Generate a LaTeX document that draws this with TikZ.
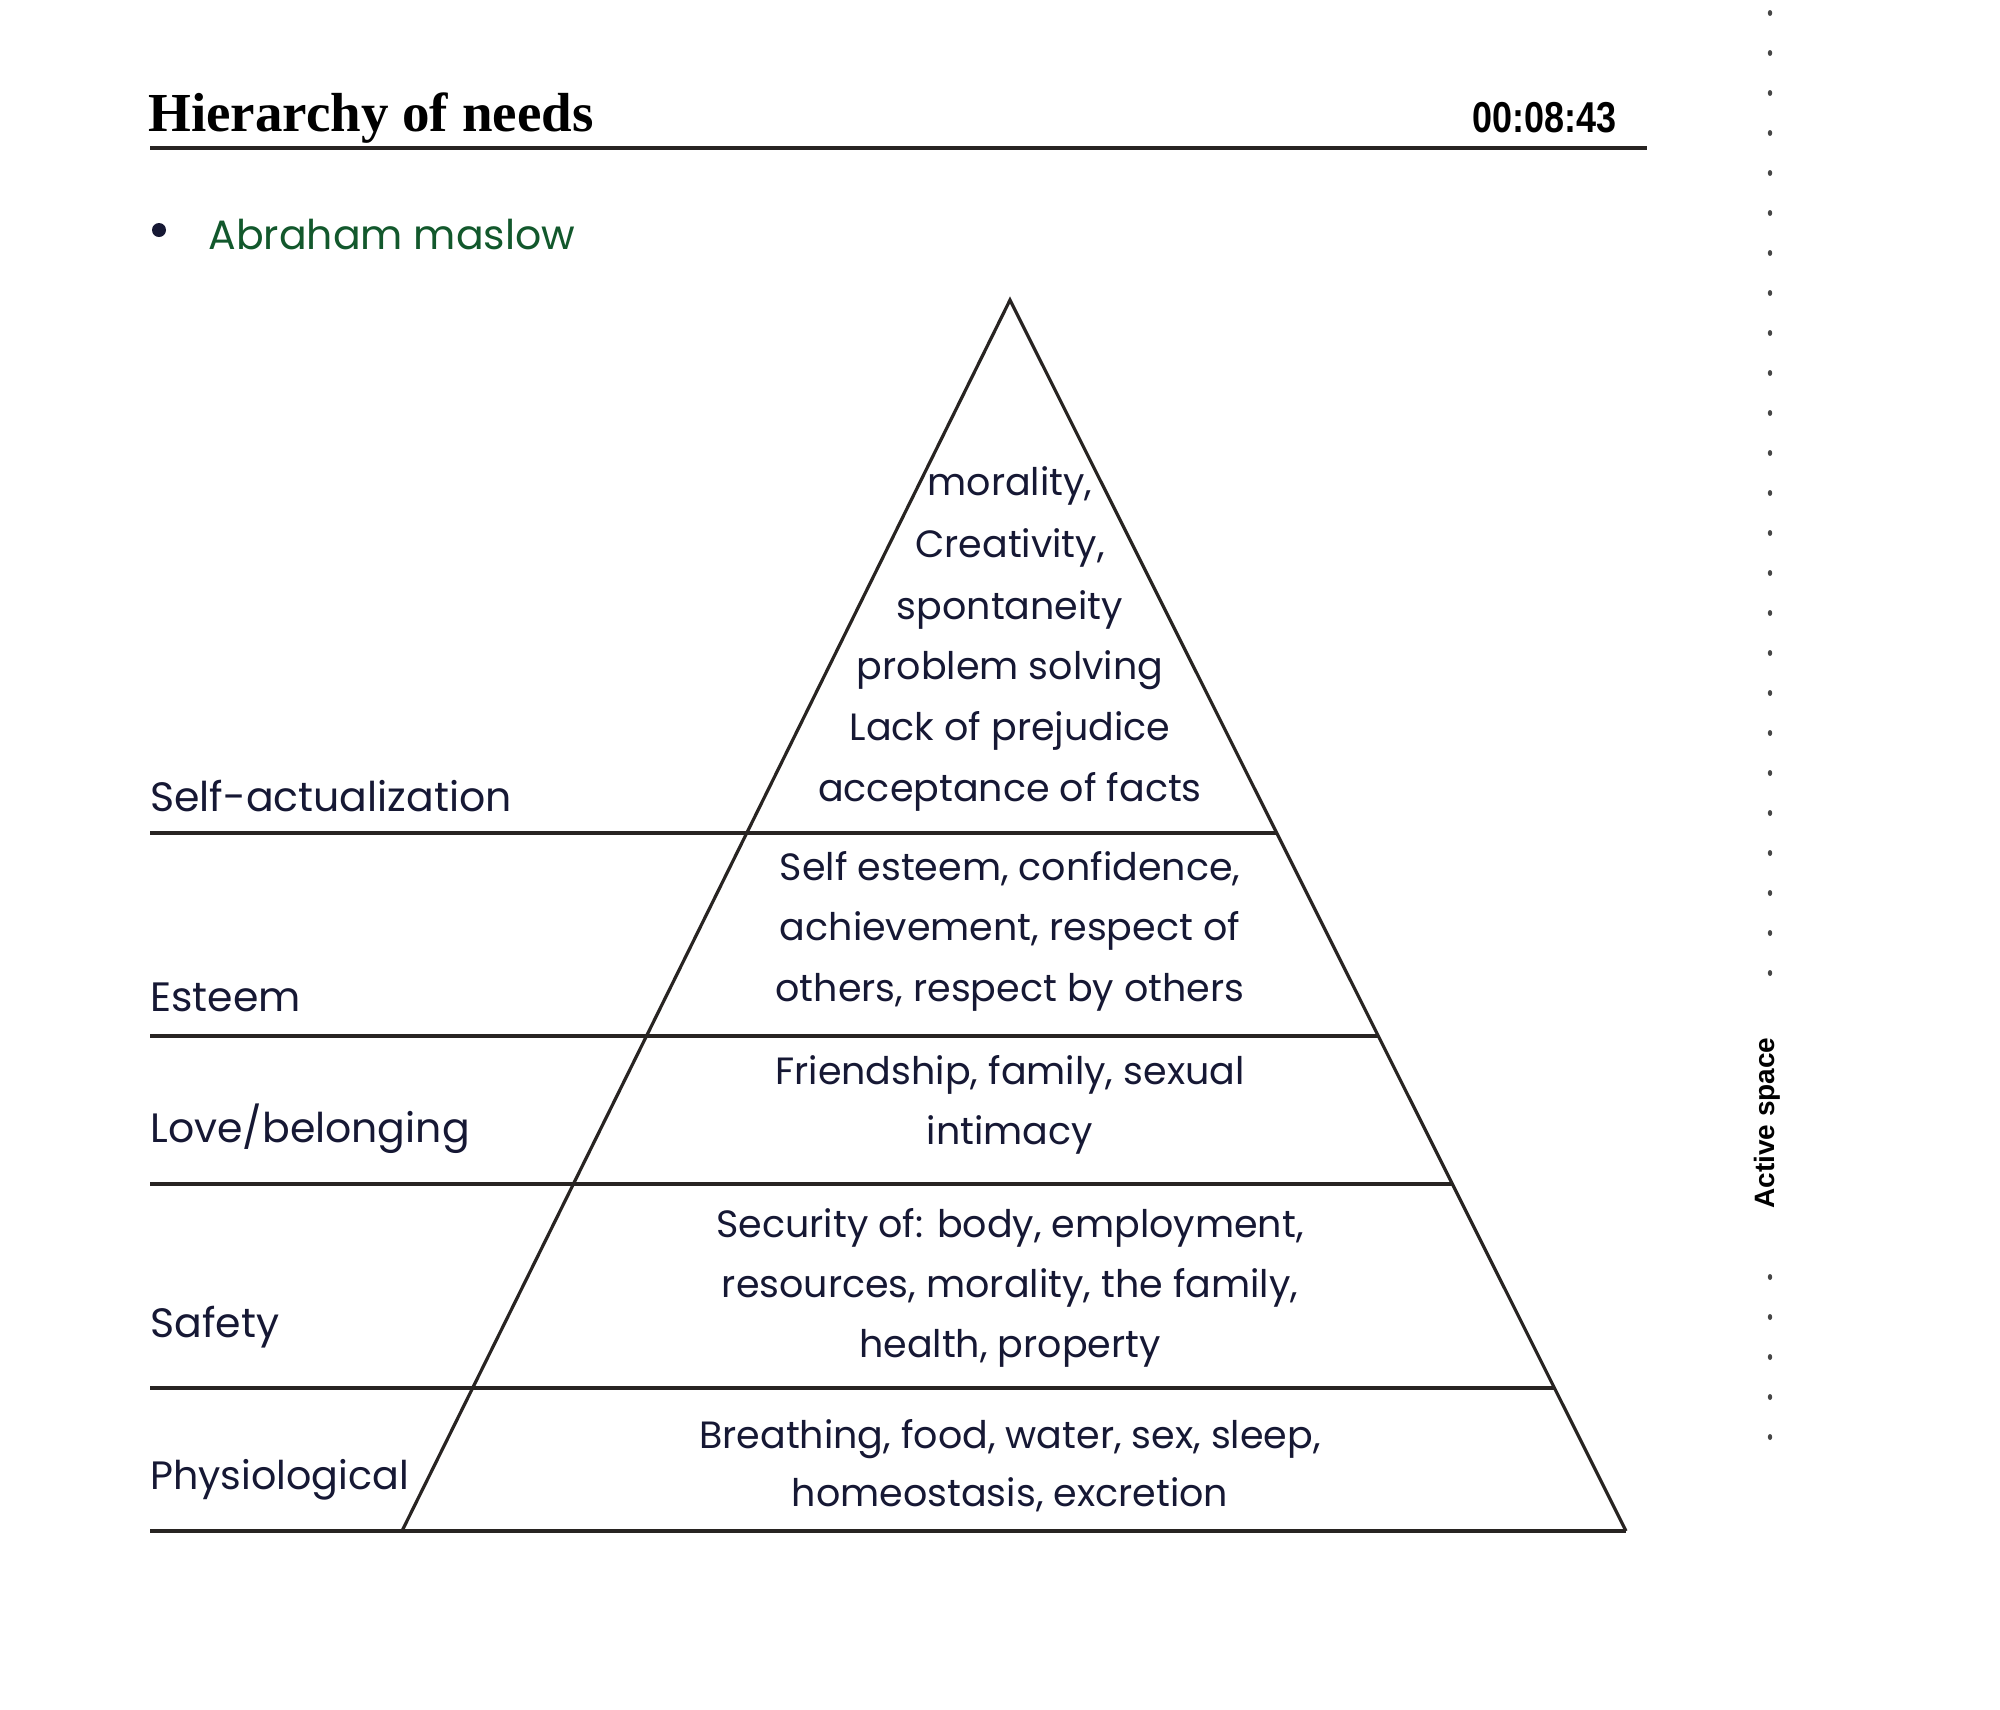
\documentclass[tikz,border=0pt]{standalone}
\usepackage{fontspec}
\setmainfont{Poppins}
\newfontfamily\titlefont{Liberation Serif}
\newfontfamily\uifont{Liberation Sans}
\usetikzlibrary{calc}
\definecolor{ink}{RGB}{22,24,52}
\definecolor{greenink}{RGB}{18,88,44}
\definecolor{rulecol}{RGB}{40,36,34}
\definecolor{dotcol}{RGB}{70,70,70}
\tikzset{
  hand/.style={font=\fontsize{19}{30}\selectfont, text=ink, inner sep=0pt},
  lbl/.style={hand, font=\fontsize{20.5}{30}\selectfont, anchor=base west},
  body/.style={hand, anchor=base},
  rulel/.style={line width=1.9pt, draw=rulecol},
  pyr/.style={line width=1.6pt, draw=rulecol, line join=miter},
  dotmark/.style={fill=dotcol},
}
\begin{document}
\begin{tikzpicture}[x=0.5pt,y=-0.5pt]
\fill[white] (0,0) rectangle (2000,1709);
\useasboundingbox (0,0) rectangle (2000,1709);
% header
\node[anchor=base west, inner sep=0pt, font=\titlefont\bfseries\fontsize{27.5}{33}\selectfont] (title) at (148,131) {Hierarchy of needs};
\node[anchor=base east, inner sep=0pt, font=\uifont\bfseries\fontsize{18}{22}\selectfont] (timer) at (1617,132) {\scalebox{1}[1.2]{00:08:43}};
\coordinate (hl) at (150,148);
\coordinate (hr) at (1647,148);
\draw[line width=2pt, rulecol] (hl) -- (hr);
\fill[ink] (159,230) circle[radius=7];
\node[anchor=base west, inner sep=0pt, font=\fontsize{20.5}{25}\selectfont, text=greenink] (author) at (208,249) {Abraham maslow};
% pyramid
\coordinate (apex) at (1010,300);
\coordinate (bl) at (402,1531);
\coordinate (br) at (1626,1531);
\draw[pyr] (bl) -- (apex) -- (br);
\foreach \y in {833,1036,1184,1388,1531} {
  \draw[rulel] (150,\y) -- ($(apex)!{(\y-300)/1231}!(br)$);
}
% left labels
\node[lbl] (sa) at (150,811) {Self-actualization};
\node[lbl] (es) at (150,1011) {Esteem};
\node[lbl] (lb) at (150,1142) {Love/belonging};
\node[lbl] (sf) at (150,1337) {Safety};
\node[lbl, font=\fontsize{19.8}{30}\selectfont] (ph) at (150,1489) {Physiological};
% pyramid texts
\node[body] (t1) at (1010,495) {morality,};
\node[body] (t2) at (1010,557) {Creativity,};
\node[body] (t3) at (1010,619) {spontaneity};
\node[body] (t4) at (1010,679) {problem solving};
\node[body] (t5) at (1010,740) {Lack of prejudice};
\node[body] (t6) at (1010,801) {acceptance of facts};
\node[body] (e1) at (1010,880) {Self esteem, confidence,};
\node[body] (e2) at (1010,940) {achievement, respect of};
\node[body] (e3) at (1010,1001) {others, respect by others};
\node[body] (l1) at (1010,1084) {Friendship, family, sexual};
\node[body] (l2) at (1010,1144) {intimacy};
\node[body] (s1) at (1010,1237) {Security of: body, employment,};
\node[body] (s2) at (1010,1297) {resources, morality, the family,};
\node[body] (s3) at (1010,1357) {health, property};
\node[body] (p1) at (1010,1448) {Breathing, food, water, sex, sleep,};
\node[body] (p2) at (1010,1506) {homeostasis, excretion};
% active space
\foreach \k in {0,...,24} \fill[dotmark] (1770,{13+40*\k}) ellipse[x radius=2.2, y radius=3];
\foreach \k in {0,...,4} \fill[dotmark] (1770,{1277+40*\k}) ellipse[x radius=2.2, y radius=3];
\node[rotate=90, inner sep=0pt, font=\uifont\bfseries\fontsize{14}{16}\selectfont] (active) at (1767,1123) {Active space};
\end{tikzpicture}
\end{document}
